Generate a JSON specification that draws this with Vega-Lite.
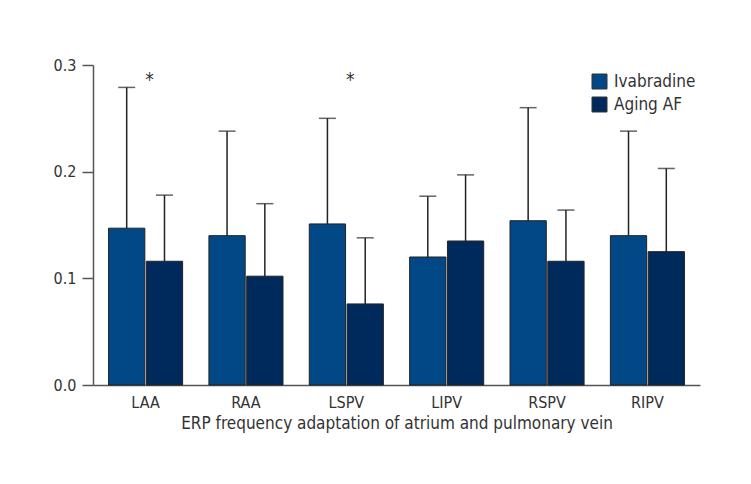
{
  "$schema": "https://vega.github.io/schema/vega-lite/v6.json",
  "autosize": "none",
  "width": 607,
  "height": 320,
  "padding": {"left": 93, "top": 65, "right": 51, "bottom": 99},
  "background": "white",
  "config": {
    "view": {"stroke": null},
    "font": "Liberation Sans Narrow, DejaVu Sans Condensed, Roboto Condensed, sans-serif"
  },
  "data": {
    "values": [
      {"site": "LAA", "group": "Ivabradine", "value": 0.147, "upper": 0.279},
      {"site": "LAA", "group": "Aging AF", "value": 0.116, "upper": 0.178},
      {"site": "RAA", "group": "Ivabradine", "value": 0.140, "upper": 0.238},
      {"site": "RAA", "group": "Aging AF", "value": 0.102, "upper": 0.170},
      {"site": "LSPV", "group": "Ivabradine", "value": 0.151, "upper": 0.250},
      {"site": "LSPV", "group": "Aging AF", "value": 0.076, "upper": 0.138},
      {"site": "LIPV", "group": "Ivabradine", "value": 0.120, "upper": 0.177},
      {"site": "LIPV", "group": "Aging AF", "value": 0.135, "upper": 0.197},
      {"site": "RSPV", "group": "Ivabradine", "value": 0.154, "upper": 0.260},
      {"site": "RSPV", "group": "Aging AF", "value": 0.116, "upper": 0.164},
      {"site": "RIPV", "group": "Ivabradine", "value": 0.140, "upper": 0.238},
      {"site": "RIPV", "group": "Aging AF", "value": 0.125, "upper": 0.203}
    ]
  },
  "encoding": {
    "x": {
      "field": "site", "type": "nominal", "sort": ["LAA", "RAA", "LSPV", "LIPV", "RSPV", "RIPV"],
      "scale": {"paddingInner": 0.262, "paddingOuter": 0.155},
      "axis": {
        "title": "ERP frequency adaptation of atrium and pulmonary vein",
        "labelAngle": 0, "ticks": false, "labelPadding": 9,
        "labelFontSize": 16, "labelColor": "#333", "titleFontSize": 17, "titleFontWeight": "normal",
        "titleColor": "#333", "titlePadding": 5,
        "domainColor": "#555", "domainWidth": 1.5
      }
    }
  },
  "layer": [
    {
      "mark": {"type": "bar", "stroke": "#222", "strokeWidth": 1},
      "encoding": {
        "xOffset": {"field": "group", "type": "nominal", "sort": ["Ivabradine", "Aging AF"], "scale": {"paddingInner": 0.04, "paddingOuter": 0}},
        "y": {
          "field": "value", "type": "quantitative",
          "scale": {"domain": [0, 0.3]},
          "axis": {
            "title": null, "values": [0, 0.1, 0.2, 0.3], "format": ".1f", "grid": false,
            "tickSize": 11, "tickColor": "#555", "tickWidth": 1.5, "domainColor": "#555", "domainWidth": 1.5,
            "labelFontSize": 16, "labelColor": "#333", "labelPadding": 6
          }
        },
        "color": {
          "field": "group", "type": "nominal",
          "sort": ["Ivabradine", "Aging AF"],
          "scale": {"domain": ["Ivabradine", "Aging AF"], "range": ["#024886", "#002a5c"]},
          "legend": {
            "title": null, "orient": "none", "legendX": 498, "legendY": 8,
            "symbolType": "square", "symbolSize": 225, "symbolStrokeColor": "#333", "symbolStrokeWidth": 1,
            "symbolOpacity": 1,
            "labelFontSize": 17, "labelColor": "#333", "labelOffset": 6, "rowPadding": 4, "padding": 0
          }
        }
      }
    },
    {
      "mark": {"type": "rule", "color": "#222", "strokeWidth": 1.5},
      "encoding": {
        "xOffset": {"field": "group", "type": "nominal", "sort": ["Ivabradine", "Aging AF"]},
        "y": {"field": "value", "type": "quantitative"},
        "y2": {"field": "upper"}
      }
    },
    {
      "mark": {"type": "tick", "color": "#222", "size": 17, "thickness": 1.5, "orient": "horizontal"},
      "encoding": {
        "xOffset": {"field": "group", "type": "nominal", "sort": ["Ivabradine", "Aging AF"]},
        "y": {"field": "upper", "type": "quantitative"}
      }
    },
    {
      "data": {"values": [{"site": "LAA", "mark": "*", "pos": 0.286}, {"site": "LSPV", "mark": "*", "pos": 0.286}]},
      "mark": {"type": "text", "fontSize": 19, "color": "#333", "dx": 4, "baseline": "middle"},
      "encoding": {
        "y": {"field": "pos", "type": "quantitative"},
        "text": {"field": "mark"}
      }
    }
  ]
}
